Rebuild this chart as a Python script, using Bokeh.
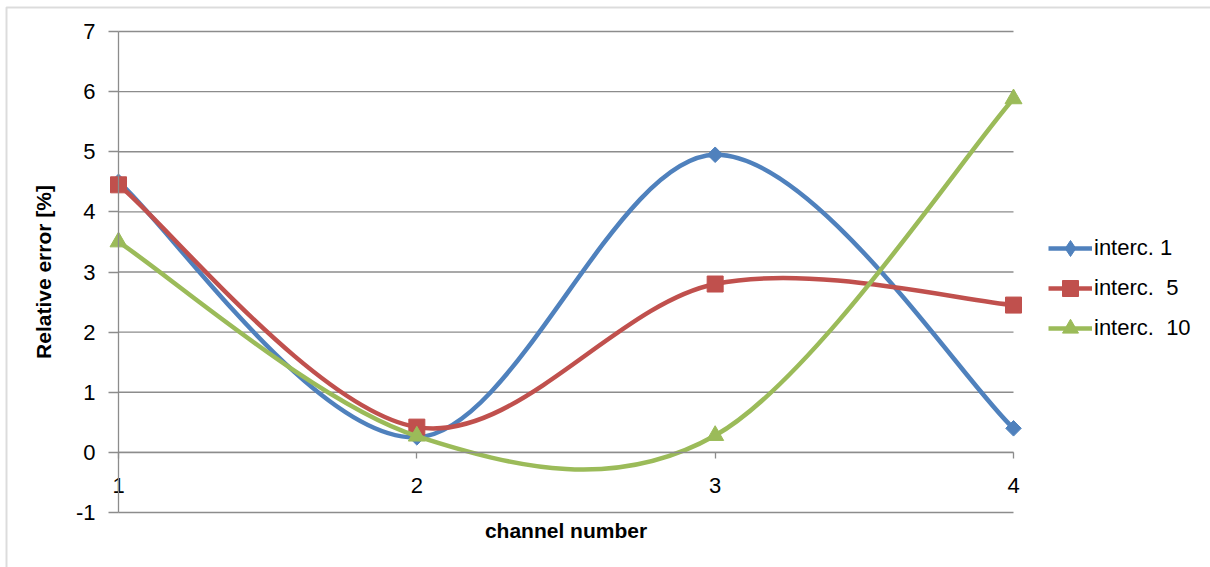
from bokeh.plotting import figure
from bokeh.models import (Range1d, FixedTicker, Legend, LegendItem,
                          LinearAxis, BoxAnnotation)
from bokeh.embed import file_html
from bokeh.resources import INLINE

# channel numbers and relative errors [%] per intercept setting
channels = [1, 2, 3, 4]
interc_1 = [4.5, 0.25, 4.95, 0.4]
interc_5 = [4.45, 0.42, 2.8, 2.45]
interc_10 = [3.5, 0.27, 0.28, 5.88]
series_names = ["interc. 1", "interc.  5", "interc.  10"]
y_ticks = [-1, 0, 1, 2, 3, 4, 5, 6, 7]

FONT = "Liberation Sans"
GRID = "#8c8c8c"
W, H = 1210, 567
# plot area inside the canvas (pixels): x 1..4 and y -1..7
PX_LEFT, PX_RIGHT, PX_TOP, PX_BOTTOM = 118, 1013, 31, 512


def smooth_segments(xs, ys):
    """Cubic Bezier control points for a smoothed line (Catmull-Rom, 1/6)."""
    n = len(xs)
    seg = dict(x0=[], y0=[], x1=[], y1=[], cx0=[], cy0=[], cx1=[], cy1=[])
    for i in range(n - 1):
        xa, ya = xs[max(i - 1, 0)], ys[max(i - 1, 0)]
        x0, y0 = xs[i], ys[i]
        x1, y1 = xs[i + 1], ys[i + 1]
        xb, yb = xs[min(i + 2, n - 1)], ys[min(i + 2, n - 1)]
        seg["x0"].append(x0)
        seg["y0"].append(y0)
        seg["x1"].append(x1)
        seg["y1"].append(y1)
        seg["cx0"].append(x0 + (x1 - xa) / 6)
        seg["cy0"].append(y0 + (y1 - ya) / 6)
        seg["cx1"].append(x1 - (xb - x0) / 6)
        seg["cy1"].append(y1 - (yb - y0) / 6)
    return seg


# the frame fills the whole canvas; ranges are widened so that the
# category span 1..4 and value span -1..7 land on the plot-area pixels
xmin, xmax = channels[0], channels[-1]
ymin, ymax = y_ticks[0], y_ticks[-1]
sx = (PX_RIGHT - PX_LEFT) / (xmax - xmin)
sy = (PX_BOTTOM - PX_TOP) / (ymax - ymin)
x_range = Range1d(xmin - PX_LEFT / sx, xmax + (W - PX_RIGHT) / sx)
y_range = Range1d(ymin - (H - PX_BOTTOM) / sy, ymax + PX_TOP / sy)

p = figure(width=W, height=H, output_backend="svg", toolbar_location=None,
           x_range=x_range, y_range=y_range,
           x_axis_type=None, y_axis_type=None,
           min_border_left=0, min_border_right=0,
           min_border_top=0, min_border_bottom=0)
p.outline_line_color = None
p.background_fill_color = "white"
p.border_fill_color = "white"

# horizontal gridlines across the plot area
p.segment(x0=xmin, x1=xmax, y0=y_ticks, y1=y_ticks,
          line_color=GRID, line_width=1.3)

# value axis at channel 1
ya = LinearAxis(fixed_location=xmin, bounds=(ymin, ymax),
                ticker=FixedTicker(ticks=y_ticks),
                major_label_overrides={t: str(t) for t in y_ticks})
ya.axis_line_color = GRID
ya.axis_line_width = 1.3
ya.major_tick_line_color = GRID
ya.major_tick_line_width = 1.3
ya.major_tick_out = 10
ya.major_tick_in = 0
ya.minor_tick_line_color = None
ya.major_label_standoff = 13
ya.major_label_text_font = FONT
ya.major_label_text_font_size = "22px"
ya.major_label_text_color = "black"
ya.axis_label = "Relative error [%]"
ya.axis_label_text_font = FONT
ya.axis_label_text_font_style = "bold"
ya.axis_label_text_font_size = "21px"
ya.axis_label_text_color = "black"
ya.axis_label_standoff = 18
p.add_layout(ya, "left")

# category axis crossing at zero
xa = LinearAxis(fixed_location=0, bounds=(xmin, xmax),
                ticker=FixedTicker(ticks=channels))
xa.axis_line_color = GRID
xa.axis_line_width = 1.3
xa.major_tick_line_color = GRID
xa.major_tick_line_width = 1.3
xa.major_tick_out = 6
xa.major_tick_in = 0
xa.minor_tick_line_color = None
xa.major_label_standoff = 20
xa.major_label_text_font = FONT
xa.major_label_text_font_size = "22px"
xa.major_label_text_color = "black"
xa.axis_label = "channel number"
xa.axis_label_text_font = FONT
xa.axis_label_text_font_style = "bold"
xa.axis_label_text_font_size = "21px"
xa.axis_label_text_color = "black"
xa.axis_label_standoff = 22
p.add_layout(xa, "below")

# series: smoothed line plus point markers
styles = [
    (interc_1, "#4F81BD", "square", 11, 0.785398, "diamond"),
    (interc_5, "#C0504D", "square", 16, 0.0, None),
    (interc_10, "#9BBB59", "triangle", 17, 0.0, None),
]
items = []
for (vals, color, marker, size, angle, key_marker), name in zip(styles,
                                                                series_names):
    curve = p.bezier(source=smooth_segments(channels, vals), x0="x0", y0="y0",
                     x1="x1", y1="y1", cx0="cx0", cy0="cy0", cx1="cx1",
                     cy1="cy1", line_color=color, line_width=4.5)
    key = None
    if key_marker is not None:
        # small upright marker under the points, used as the legend key
        key = p.scatter(channels, vals, marker=key_marker, size=8,
                        fill_color=color, line_color=color)
    pts = p.scatter(channels, vals, marker=marker, size=size, angle=angle,
                    fill_color=color, line_color=color)
    items.append(LegendItem(label=name, renderers=[curve, key or pts]))

legend = Legend(items=items, location=(1048, 219))
legend.background_fill_alpha = 0
legend.border_line_color = None
legend.padding = 0
legend.margin = 0
legend.spacing = 0
legend.glyph_width = 44
legend.glyph_height = 40
legend.label_height = 40
legend.label_standoff = 2
legend.label_text_font = FONT
legend.label_text_font_size = "22px"
legend.label_text_color = "black"
p.add_layout(legend, "center")

# chart area frame
p.add_layout(BoxAnnotation(left=6, right=W + 50, top=7, bottom=H + 50,
                           left_units="canvas", right_units="canvas",
                           top_units="canvas", bottom_units="canvas",
                           fill_alpha=0, line_color=GRID, line_width=2,
                           editable=False))

open("out.html", "w").write(file_html(p, INLINE))
